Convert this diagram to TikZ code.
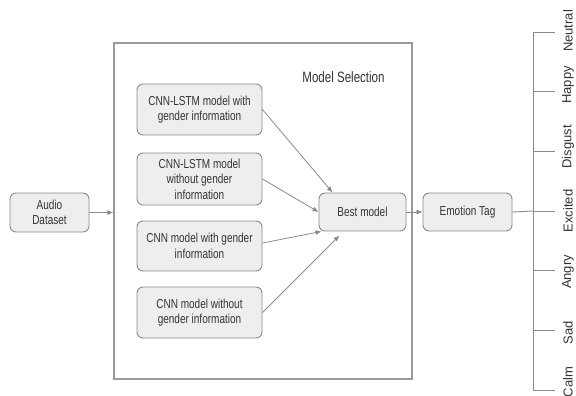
\documentclass[tikz,border=0pt]{standalone}
\usepackage{fontspec}
\setmainfont{Liberation Sans}[FakeStretch=0.77]
\newfontfamily\tagfont{Liberation Sans}
\usetikzlibrary{positioning}
\usetikzlibrary{arrows.meta}

\definecolor{boxfill}{HTML}{EEEEEE}
\definecolor{boxline}{HTML}{8A8A8A}
\definecolor{framegray}{HTML}{9A9A9A}
\definecolor{txtgray}{HTML}{333333}

\tikzset{
	stage/.style={draw=boxline, fill=boxfill, rounded corners=6pt, line width=0.9pt,
		align=center, text=txtgray, inner sep=0pt,
		font=\fontsize{13}{15.5}\selectfont},
	link/.style={draw=boxline, line width=0.8pt, -{Latex[length=6pt,width=5pt]}},
	axisline/.style={draw=boxline, line width=0.9pt},
}

\begin{document}
\begin{tikzpicture}[x=1pt, y=-1pt]
				\useasboundingbox (0,0) rectangle (576,396);
				% selection frame
				\node[draw=framegray, line width=1.2pt, minimum width=298pt, minimum height=336pt] (frame) at (263,211) {};
				\node[text=txtgray, font=\fontsize{15}{18}\selectfont] (title) at (343.5,77) {Model Selection};
				% boxes
				\node[stage, minimum width=79pt, minimum height=39pt] (audio) at (49.5,212.5) {Audio\\Dataset};
				\node[stage, minimum width=125pt, minimum height=51pt] (m1) at (199.5,109.5) {CNN-LSTM model with\\gender information};
				\node[stage, minimum width=125pt, minimum height=52pt] (m2) at (199.5,179) {CNN-LSTM model\\without gender\\information};
				\node[stage, minimum width=125pt, minimum height=50pt] (m3) at (199.5,246) {CNN model with gender\\information};
				\node[stage, minimum width=125pt, minimum height=51pt] (m4) at (199.5,312.5) {CNN model without\\gender information};
				\node[stage, minimum width=87pt, minimum height=38pt] (best) at (362.5,212) {Best model};
				\node[stage, minimum width=89pt, minimum height=38pt] (tag) at (467.5,212) {Emotion Tag};
				% arrows
				\draw[link] (audio.east) -- (audio.east -| frame.west);
				\draw[link] (m1.east) -- ([xshift=14pt]best.north west);
				\draw[link] (m2.east) -- (best.west);
				\draw[link] ([yshift=3pt]m3.east) -- ([xshift=3pt]best.south west);
				\draw[link] (m4.east) -- ([xshift=21pt,yshift=-4pt]best.south west);
				\draw[link] (best.east) -- (tag.west);
				% emotion scale
				\coordinate (top) at (533,32);
				\coordinate (bot) at (533,390);
				\draw[axisline] (top) -- (bot);
				\foreach \emo/\ly [count=\i from 0] in {Neutral/31, Happy/85, Disgust/147, Excited/211, Angry/272, Sad/333, Calm/382}{
					\coordinate (tk\i) at (533,32+59.67*\i);
					\draw[axisline] (tk\i) -- ++(22,0);
					\node[rotate=90, text=txtgray, font=\tagfont\fontsize{13}{15}\selectfont] (lb\i) at (568,\ly) {\emo};
				}
				\draw[axisline] (tag.east) -- (tk3);
			\end{tikzpicture}
\end{document}
